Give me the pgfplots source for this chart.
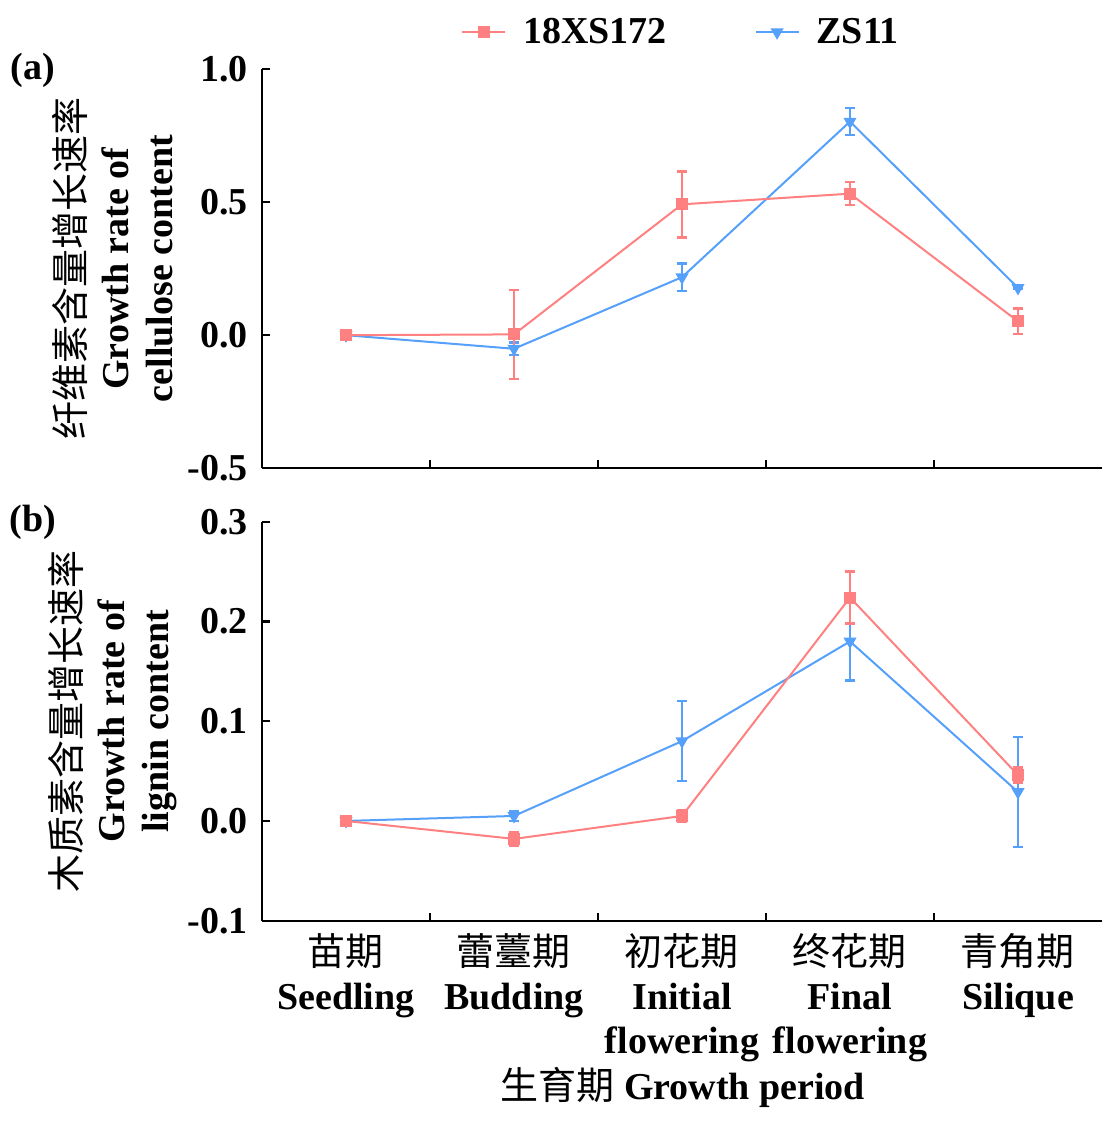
\documentclass[border=0pt]{standalone}
\usepackage{fontspec}
\setmainfont{Liberation Serif}
\newfontfamily\cjk{Noto Sans CJK SC}[BoldFont={Noto Sans CJK SC}]
\usepackage{pgfplots}
\pgfplotsset{compat=1.18}

\definecolor{cred}{RGB}{255,128,128}
\definecolor{cblue}{RGB}{84,160,250}

\pgfplotsset{
 myaxis/.style={
  scale only axis, width=420pt, height=199.5pt,
  anchor=south west,
  xmin=-0.5, xmax=4.5,
  axis x line=bottom, axis y line=left,
  axis line style={-, line width=1.2pt},
  tick style={line width=1.2pt, black},
  tick align=inside,
  major tick length=4pt,
  xtick={0.5,1.5,2.5,3.5}, xticklabels={},
  font=\fontsize{19}{22}\selectfont\bfseries,
  y tick label style={xshift=-3.5pt, /pgf/number format/.cd, fixed, fixed zerofill, precision=1, assume math mode=true, /tikz/.cd},
  ylabel style={align=center, at={(axis description cs:-0.1774,0.5)}, anchor=center},
  clip=false,
 },
 sA/.style={cred, line width=1pt, mark=square*, mark size=2.5pt, mark options={solid, fill=cred},
   error bars/.cd, y dir=both, y explicit,
   error bar style={line width=1.2pt, cred},
   error mark options={rotate=90, mark size=2.5pt, line width=1.2pt, cred}},
 sB/.style={cblue, line width=1pt, mark=triangle*, mark size=2.8pt, mark options={solid, rotate=180, fill=cblue},
   error bars/.cd, y dir=both, y explicit,
   error bar style={line width=1.2pt, cblue},
   error mark options={rotate=90, mark size=2.5pt, line width=1.2pt, cblue}},
}

\begin{document}
\begin{tikzpicture}
\useasboundingbox (0,0) rectangle (556.5pt,560.5pt);

\begin{axis}[myaxis, at={(131pt,326.4pt)},
  ymin=-0.5, ymax=1.0, ytick={-0.5,0,0.5,1.0},
  ylabel={{\cjk 纤维素含量增长速率}\\Growth rate of\\cellulose content},
  legend columns=2,
  reverse legend,
  legend cell align=left,
  legend style={draw=none, fill=none, at={(0.5,1.0927)}, anchor=center,
    font=\fontsize{19}{22}\selectfont\bfseries,
    /tikz/every odd column/.append style={column sep=6.5pt},
    /tikz/every even column/.append style={column sep=42pt}},
  legend image code/.code={\draw[mark repeat=2,mark phase=2] plot coordinates {(0pt,0pt) (10.75pt,0pt) (21.5pt,0pt)};},
]
\addplot[sB] coordinates {
 (0,0) +- (0,0)
 (1,-0.051) +- (0,0.023)
 (2,0.218) +- (0,0.052)
 (3,0.803) +- (0,0.050)
 (4,0.178) +- (0,0.004)
};
\addlegendentry{ZS11}
\addplot[sA] coordinates {
 (0,0) +- (0,0)
 (1,0.003) +- (0,0.167)
 (2,0.492) +- (0,0.124)
 (3,0.532) +- (0,0.043)
 (4,0.052) +- (0,0.048)
};
\addlegendentry{18XS172}
\node[font=\bfseries\fontsize{19}{22}\selectfont] at (rel axis cs:-0.2726,0.998) {(a)};
\end{axis}

\begin{axis}[myaxis, at={(131pt,100.15pt)},
  ymin=-0.1, ymax=0.3, ytick={-0.1,0,0.1,0.2,0.3},
  ylabel={{\cjk 木质素含量增长速率}\\Growth rate of\\lignin content},
  extra x ticks={0,1,2,3,4},
  extra x tick labels={{{\cjk 苗期}\\Seedling},{{\cjk 蕾薹期}\\Budding},{{\cjk 初花期}\\Initial\\flowering},{{\cjk 终花期}\\Final\\flowering},{{\cjk 青角期}\\Silique}},
  extra x tick style={major tick length=0pt, tick label style={align=center, anchor=north, yshift=-3pt}},
  xlabel={{\cjk 生育期} Growth period},
  xlabel style={at={(axis description cs:0.501,-0.4168)}, anchor=center},
]
\addplot[sB] coordinates {
 (0,0) +- (0,0)
 (1,0.005) +- (0,0.005)
 (2,0.080) +- (0,0.040)
 (3,0.180) +- (0,0.039)
 (4,0.029) +- (0,0.055)
};
\addplot[sA] coordinates {
 (0,0) +- (0,0)
 (1,-0.018) +- (0,0.0067)
 (2,0.005) +- (0,0.006)
 (3,0.224) +- (0,0.026)
 (4,0.046) +- (0,0.0075)
};
\node[font=\bfseries\fontsize{19}{22}\selectfont] at (rel axis cs:-0.2726,0.999) {(b)};
\end{axis}
\end{tikzpicture}
\end{document}
